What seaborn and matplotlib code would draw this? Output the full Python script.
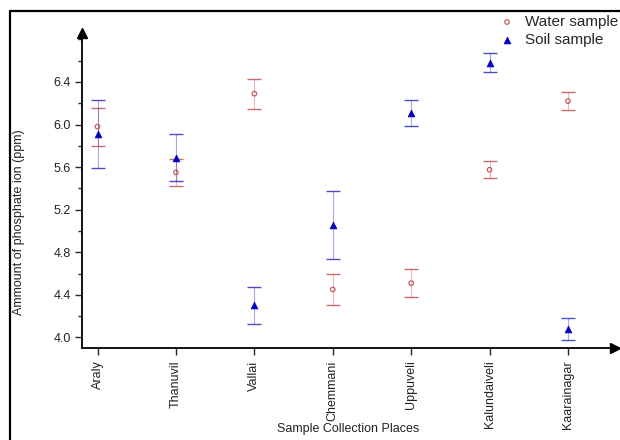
import matplotlib
matplotlib.use("Agg")
import matplotlib.pyplot as plt
from matplotlib.lines import Line2D
from matplotlib.ticker import MultipleLocator
import seaborn as sns
import pandas as pd

places = ["Araly", "Thanuvil", "Vallai", "Chemmani", "Uppuveli", "Kalundaiveli", "Kaarainagar"]
water = [5.98, 5.55, 6.29, 4.45, 4.51, 5.575, 6.22]
water_err = [0.18, 0.13, 0.14, 0.15, 0.135, 0.08, 0.085]
soil = [5.91, 5.69, 4.30, 5.06, 6.11, 6.58, 4.08]
soil_err = [0.32, 0.22, 0.175, 0.32, 0.12, 0.09, 0.10]
y_ticks = [4.0, 4.4, 4.8, 5.2, 5.6, 6.0, 6.4]

sns.set_style("white")
plt.rcParams["font.family"] = ["Liberation Sans", "DejaVu Sans"]

water_df = pd.DataFrame({"place": places, "amount": water, "err": water_err})
soil_df = pd.DataFrame({"place": places, "amount": soil, "err": soil_err})

WATER_C = "#b83a3a"
SOIL_C = "#1010b0"

fig = plt.figure(figsize=(6.2, 4.4), dpi=100)
ax = fig.add_axes([0.132, 0.209, 0.860, 0.716])


def draw_errors(df, color):
    _, caps, bars = ax.errorbar(range(len(df)), df["amount"], yerr=df["err"], fmt="none",
                                ecolor=color, elinewidth=0.8, capsize=5, capthick=1.0,
                                zorder=2)
    for c in caps:
        c.set_alpha(0.75)
    for b in bars:
        b.set_alpha(0.35)


# error bars first so markers sit on top
draw_errors(water_df, WATER_C)
draw_errors(soil_df, SOIL_C)

sns.scatterplot(data=water_df, x="place", y="amount", marker="o", s=11,
                facecolor="none", edgecolor="#c05050", linewidth=0.8,
                label="Water sample", ax=ax, zorder=3)
sns.scatterplot(data=soil_df, x="place", y="amount", marker="^", s=24,
                color="#0000c0", edgecolor="#0000c0", linewidth=0.5,
                label="Soil sample", ax=ax, zorder=4)

ax.set_xlim(-0.2, 6.6)
ax.set_ylim(3.90, 6.86)
ax.set_yticks(y_ticks)
ax.yaxis.set_minor_locator(MultipleLocator(0.2))
ax.set_yticklabels([f"{v:.1f}" for v in y_ticks], fontsize=9, color="#222222")
ax.tick_params(axis="y", which="major", direction="out", length=5, width=1.0, left=True, pad=3)
ax.tick_params(axis="y", which="minor", direction="out", length=3, width=1.0, left=True)
ax.tick_params(axis="x", which="major", direction="out", length=5, width=1.0, bottom=True,
               labelrotation=90, labelsize=9, labelcolor="#222222", pad=4)

for side in ("top", "right"):
    ax.spines[side].set_visible(False)
for side in ("left", "bottom"):
    ax.spines[side].set_linewidth(1.3)
    ax.spines[side].set_color("black")

# arrow heads at the axis ends
ax.plot(1, 0, marker=">", ms=7, color="black", transform=ax.transAxes, clip_on=False)
ax.plot(0, 1, marker="^", ms=7, color="black", transform=ax.transAxes, clip_on=False)

ax.set_xlabel("Sample Collection Places", fontsize=9, color="#222222")
ax.xaxis.set_label_coords(0.5, -0.238)
ax.set_ylabel("Ammount of phosphate ion (ppm)", fontsize=9, color="#222222")
ax.yaxis.set_label_coords(-0.107, 0.40)

handles, labels = ax.get_legend_handles_labels()
ax.legend(handles, labels, loc="upper left", bbox_to_anchor=(499.4 / 620, 1 - 15 / 440),
          bbox_transform=fig.transFigure, frameon=False, fontsize=11,
          handlelength=1.0, handletextpad=0.68, labelspacing=0.25,
          borderpad=0, borderaxespad=0)

# outer frame along the left and top edges
fig.add_artist(Line2D([10 / 620, 10 / 620], [0, 1 - 11 / 440], transform=fig.transFigure,
                      color="black", lw=1.6))
fig.add_artist(Line2D([10 / 620, 1], [1 - 11 / 440, 1 - 11 / 440], transform=fig.transFigure,
                      color="black", lw=1.6))

fig.savefig("out.png", dpi=100)
